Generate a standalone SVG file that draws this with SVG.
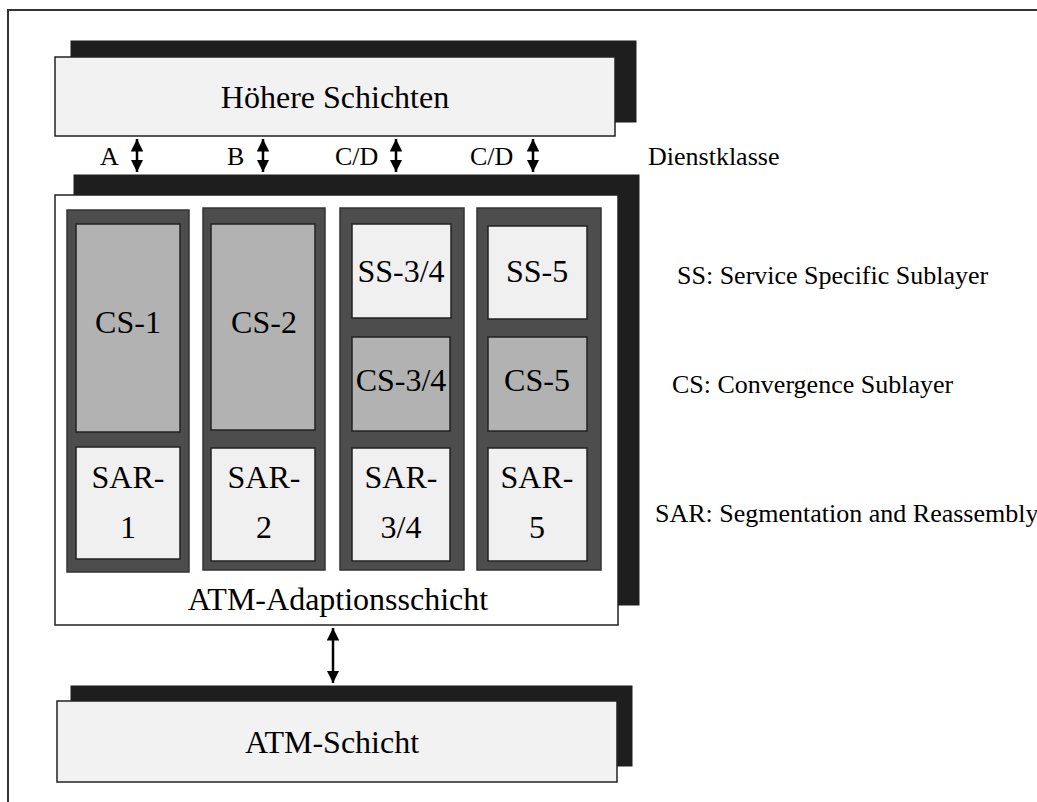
<svg xmlns="http://www.w3.org/2000/svg" width="1037" height="802" viewBox="0 0 1037 802">
<style>
.shadow{fill:#1e1e1e;stroke:#1e1e1e;stroke-width:1}
.layer{fill:#f2f2f2;stroke:#222;stroke-width:1.5}
.aal{fill:#ffffff;stroke:#222;stroke-width:1.5}
.col{fill:#4d4d4d;stroke:#333;stroke-width:1.5}
.cs{fill:#b2b2b2;stroke:#222;stroke-width:1.5}
.lt{fill:#f0f0f0;stroke:#222;stroke-width:1.5}
text{font-family:'Liberation Serif','Times New Roman','DejaVu Serif',serif;fill:#000}
.big{font-size:32px;text-anchor:middle}
.sm{font-size:26px}
.conn{stroke:#000;stroke-width:2.5;fill:none;marker-start:url(#ah);marker-end:url(#ah)}
</style>
<defs>
<marker id="ah" viewBox="0 0 10 10" refX="10" refY="5" markerWidth="5" markerHeight="5" orient="auto-start-reverse" markerUnits="strokeWidth">
<path d="M0,0 L10,5 L0,10 z" fill="#000"/>
</marker>
</defs>
<rect width="1037" height="802" fill="#ffffff"/>
<path d="M8,802 L8,10 L1037,10" fill="none" stroke="#333" stroke-width="2"/>

<g id="hoehere-schichten">
<rect class="shadow" x="71" y="41" width="565" height="81"/>
<rect class="layer" x="55" y="57" width="560" height="79"/>
<text class="big" x="335" y="108" font-family="Liberation Serif, serif">Höhere Schichten</text>
</g>

<g id="aal">
<rect class="shadow" x="74" y="175" width="565" height="430"/>
<rect class="aal" x="55" y="195" width="563" height="430"/>
<text class="big" x="338" y="610">ATM-Adaptionsschicht</text>
</g>

<g id="aal1">
<rect class="col" x="67" y="210" width="122" height="362"/>
<rect class="cs" x="76" y="224" width="104" height="208"/>
<text class="big" x="128" y="333">CS-1</text>
<rect class="lt" x="76" y="447" width="104" height="112"/>
<text class="big" x="128" y="488">SAR-</text>
<text class="big" x="128" y="538">1</text>
</g>

<g id="aal2">
<rect class="col" x="203" y="208" width="122" height="362"/>
<rect class="cs" x="211" y="224" width="104" height="206"/>
<text class="big" x="264" y="333">CS-2</text>
<rect class="lt" x="211" y="448" width="104" height="113"/>
<text class="big" x="264" y="488">SAR-</text>
<text class="big" x="264" y="538">2</text>
</g>

<g id="aal34">
<rect class="col" x="340" y="208" width="124" height="362"/>
<rect class="lt" x="352" y="224" width="99" height="94"/>
<text class="big" x="401" y="282">SS-3/4</text>
<rect class="cs" x="352" y="337" width="98" height="94"/>
<text class="big" x="401" y="391">CS-3/4</text>
<rect class="lt" x="352" y="448" width="98" height="113"/>
<text class="big" x="401" y="488">SAR-</text>
<text class="big" x="401" y="538">3/4</text>
</g>

<g id="aal5">
<rect class="col" x="477" y="208" width="124" height="362"/>
<rect class="lt" x="488" y="226" width="99" height="93"/>
<text class="big" x="537" y="282">SS-5</text>
<rect class="cs" x="488" y="337" width="99" height="94"/>
<text class="big" x="537" y="391">CS-5</text>
<rect class="lt" x="488" y="448" width="99" height="113"/>
<text class="big" x="537" y="488">SAR-</text>
<text class="big" x="537" y="538">5</text>
</g>

<g id="atm-schicht">
<rect class="shadow" x="71" y="686" width="561" height="80"/>
<rect class="layer" x="57" y="701" width="560" height="81"/>
<text class="big" x="332" y="753">ATM-Schicht</text>
</g>

<g id="connectors">
<line class="conn" x1="137" y1="139" x2="137" y2="172"/>
<line class="conn" x1="263" y1="139" x2="263" y2="172"/>
<line class="conn" x1="396" y1="139" x2="396" y2="172"/>
<line class="conn" x1="533" y1="139" x2="533" y2="172"/>
<line class="conn" x1="333" y1="628" x2="333" y2="683"/>
</g>

<g id="labels">
<text class="sm" x="100" y="165">A</text>
<text class="sm" x="227" y="165">B</text>
<text class="sm" x="335" y="165">C/D</text>
<text class="sm" x="470" y="165">C/D</text>
<text class="sm" x="648" y="165">Dienstklasse</text>
<text class="sm" x="677" y="284">SS: Service Specific Sublayer</text>
<text class="sm" x="672" y="393">CS: Convergence Sublayer</text>
<text class="sm" x="655" y="522">SAR: Segmentation and Reassembly</text>
</g>
</svg>
